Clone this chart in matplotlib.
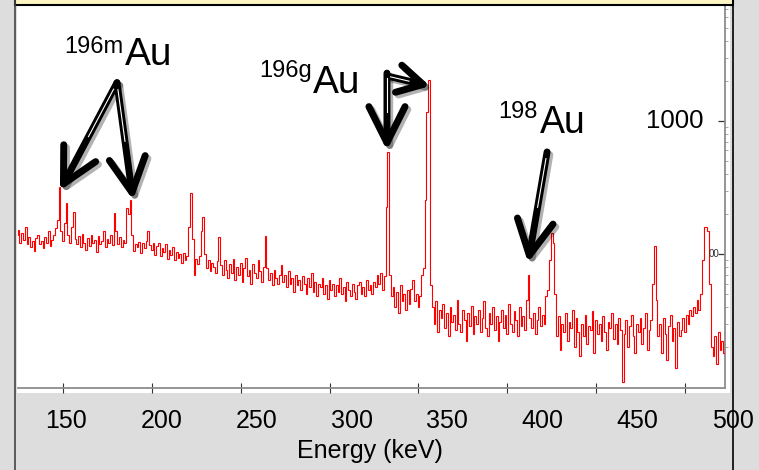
import numpy as np
import matplotlib
matplotlib.use("Agg")
import matplotlib.pyplot as plt
import matplotlib.patheffects as pe
from matplotlib.patches import Rectangle, FancyArrowPatch
from matplotlib.lines import Line2D
from matplotlib.transforms import blended_transform_factory

plt.rcParams['font.family'] = ['Liberation Sans', 'DejaVu Sans']

W, H = 759, 470

# gamma spectrum, 1 keV channels (centres 124 ... 523 keV)
bin_edges = np.arange(123.5, 524, 1)
counts = [
    138, 152, 120, 145, 128, 160, 118, 135, 112, 126,   # 124
    105, 132, 140, 118, 126, 110, 134, 122, 148, 115,   # 134
    128, 140, 158, 180, 319, 150, 125, 170, 242, 140,   # 144
    120, 160, 207, 130, 118, 136, 112, 142, 120, 108,   # 154
    132, 115, 140, 122, 128, 104, 136, 118, 126, 150,   # 164
    112, 130, 120, 138, 116, 203, 150, 118, 134, 112,   # 174
    128, 120, 222, 200, 255, 140, 106, 118, 112, 124,   # 184
    102, 120, 110, 126, 148, 116, 108, 122, 98, 114,    # 194
    120, 96, 110, 104, 118, 92, 108, 98, 112, 90,       # 204
    104, 94, 100, 86, 102, 90, 96, 160, 287, 130,       # 214
    70, 92, 84, 96, 150, 190, 100, 78, 90, 74,          # 224
    86, 80, 72, 88, 134, 82, 70, 90, 76, 66,            # 234
    84, 72, 92, 64, 80, 70, 86, 62, 78, 94,             # 244
    68, 76, 60, 84, 72, 66, 90, 74, 62, 80,             # 254
    137, 78, 64, 72, 58, 76, 66, 60, 70, 82,            # 264
    62, 70, 56, 74, 60, 66, 52, 70, 58, 64,             # 274
    54, 68, 60, 50, 66, 56, 72, 52, 62, 48,             # 284
    60, 56, 66, 50, 58, 46, 64, 54, 60, 48,             # 294
    58, 52, 66, 50, 56, 44, 62, 54, 48, 60,             # 304
    52, 46, 58, 62, 50, 56, 48, 64, 54, 58,             # 314
    50, 62, 56, 70, 60, 72, 54, 68, 226, 585,           # 324
    70, 48, 56, 40, 52, 36, 58, 44, 50, 38,             # 334
    54, 42, 55, 64, 44, 50, 40, 48, 70, 78,             # 344
    255, 1170, 2030, 58, 40, 30, 44, 26, 38, 33,        # 354
    42, 28, 36, 24, 40, 31, 35, 27, 45, 30,             # 364
    26, 38, 32, 22, 36, 29, 41, 25, 34, 30,             # 374
    38, 26, 33, 44, 28, 24, 36, 30, 40, 27,             # 384
    34, 22, 31, 38, 28, 35, 25, 42, 30, 26,             # 394
    37, 32, 24, 40, 29, 34, 27, 45, 70, 33,             # 404
    28, 36, 25, 32, 40, 29, 35, 30, 48, 54,             # 414
    90, 144, 120, 50, 24, 34, 19, 30, 26, 36,           # 424
    22, 31, 28, 38, 20, 33, 26, 17, 30, 24,             # 434
    35, 21, 29, 27, 37, 18, 32, 25, 30, 22,             # 444
    34, 26, 19, 31, 28, 36, 23, 30, 21, 33,             # 454
    27, 11, 25, 32, 20, 29, 35, 24, 18, 30,             # 464
    26, 33, 21, 28, 36, 19, 27, 32, 60, 115,            # 474
    45, 24, 30, 18, 33, 25, 16, 29, 35, 22,             # 484
    28, 14, 31, 24, 27, 33, 26, 35, 30, 38,             # 494
    34, 40, 36, 45, 38, 50, 90, 160, 160, 150,          # 504
    60, 20, 17, 24, 15, 26, 19, 22, 18, 21,             # 514
]

xtick_vals = [150, 200, 250, 300, 350, 400, 450, 500]

peak_labels = [
    # superscript, (x, y) of superscript right edge, (x, y) of "Au", Au size
    ("196m", (123, 53), (125, 65), 28),
    ("196g", (312, 77), (313, 93), 28),
    ("198", (538, 118), (540, 133), 27),
]

# arrows: (tail E, tail counts) -> (tip E, tip counts)
arrows = [
    ((180.4, 1940), (148.3, 300), 25, 13),
    ((180.4, 1940), (189.4, 255), 25, 13),
    ((332.3, 2290), (332.3, 600), 26, 13),
    ((332.9, 2170), (356.5, 1830), 18, 10),
    ((422.4, 585), (411.7, 86), 25, 13),
]


def fp(x, y):
    return x / W, 1 - y / H


fig = plt.figure(figsize=(W / 100, H / 100), dpi=100, facecolor='#dddddd')

# white panel behind the plot
fig.add_artist(Rectangle(fp(17, 393), 713 / W, 387 / H, transform=fig.transFigure,
                         facecolor='white', edgecolor='none', zorder=0))

ax = fig.add_axes([18 / W, 1 - 388 / H, 707 / W, 382 / H])
ax.set_facecolor('none')
ax.stairs(counts, bin_edges, color='#ff0000', lw=0.8, zorder=3)
ax.set_yscale('log')
ax.set_xlim(124.7, 522.5)
ax.set_ylim(9.83, 7320)

for s in ['left', 'top']:
    ax.spines[s].set_visible(False)
for s in ['right', 'bottom']:
    ax.spines[s].set_color('#8c8c8c')
    ax.spines[s].set_linewidth(1.3)

ax.set_xticks(xtick_vals)
ax.tick_params(axis='x', direction='inout', length=7, width=0.8, color='#333333',
               labelbottom=False)
ax.yaxis.set_ticks_position('right')
ax.set_yticks([100, 1000])
ax.tick_params(axis='y', which='major', direction='in', length=5, width=0.9,
               color='#333333', labelright=False, labelleft=False)
ax.tick_params(axis='y', which='minor', direction='out', length=2, width=0.6,
               color='#999999', labelright=False, labelleft=False)

# right axis labels (partly hidden in the original)
ytr = blended_transform_factory(fig.transFigure, ax.transData)
ax.text(703 / W, 1000, '1000', transform=ytr, ha='right', va='center', fontsize=18.5)
ax.text(719 / W, 100, '00', transform=ytr, ha='right', va='center', fontsize=7,
        color='#333333')

# isotope labels
for sup, (sx, sy), (ax_, ay), sz in peak_labels:
    fig.text(*fp(sx, sy), sup, ha='right', va='baseline', fontsize=17)
    fig.text(*fp(ax_, ay), 'Au', ha='left', va='baseline', fontsize=sz)

# arrows
for (tE, tC), (pE, pC), hl, hw in arrows:
    arr = FancyArrowPatch((tE, tC), (pE, pC), transform=ax.transData,
                          arrowstyle=f'->,head_length={hl},head_width={hw}',
                          mutation_scale=1, lw=5, color='black',
                          capstyle='round', joinstyle='round',
                          shrinkA=0, shrinkB=0, zorder=6, clip_on=False,
                          path_effects=[pe.SimpleLineShadow(offset=(2, -2), alpha=0.3),
                                        pe.Normal()])
    ax.add_patch(arr)
    t = np.array([0.06, 0.5])
    ax.plot(tE + t * (pE - tE), tC * (pC / tC) ** t, color='white', lw=0.8,
            zorder=7, clip_on=False)

# shifted x tick labels of the screenshot
lab_ax = fig.add_axes([0, 0, 1, 0.01])
lab_ax.axis('off')
lab_ax.set_xlim(115.08, 513.65)
ltr = blended_transform_factory(lab_ax.transData, fig.transFigure)
for v in xtick_vals:
    lab_ax.text(v, 1 - 428 / H, str(v), transform=ltr, ha='center', va='baseline',
                fontsize=18, clip_on=False)

fig.text(*fp(370, 458), 'Energy (keV)', ha='center', va='baseline', fontsize=18)

# yellow bar at the top
fig.add_artist(Rectangle(fp(15, 5), 718 / W, 10 / H, transform=fig.transFigure,
                         facecolor='#fdf6c4', edgecolor='black', lw=1.5, zorder=8))

# frame lines of the screenshot
fig.add_artist(Line2D([15 / W, 15 / W], [0, 1], transform=fig.transFigure,
                      color='#444444', lw=1.2, zorder=9))
fig.add_artist(Line2D([732.5 / W, 732.5 / W], [0, 1], transform=fig.transFigure,
                      color='black', lw=1.2, zorder=9))

fig.savefig('out.png', dpi=100, facecolor=fig.get_facecolor())
